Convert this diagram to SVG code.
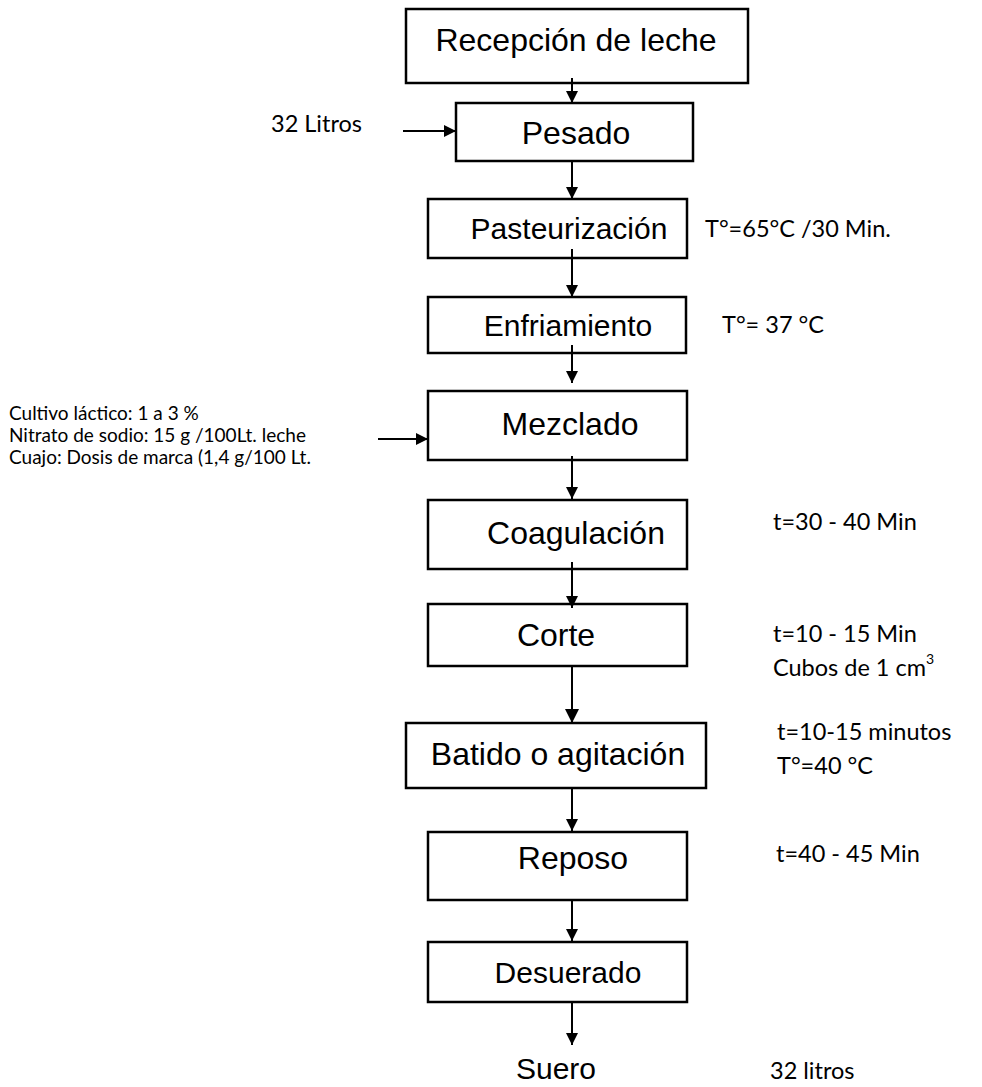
<svg xmlns="http://www.w3.org/2000/svg" width="982" height="1087" viewBox="0 0 982 1087">
  <defs>
    <style>
      .box { fill: #fff; stroke: #000; stroke-width: 2.5; }
      .lbl { font-family: "Liberation Sans", Arial, sans-serif; font-size: 32px; fill: #000; text-anchor: middle; }
      .lbl-s { font-size: 30px; }
      .note { font-family: Lato, "Open Sans", sans-serif; font-size: 23.5px; fill: #000; }
      .small { font-family: Lato, "Open Sans", sans-serif; font-size: 19px; fill: #000; }
      .flow { stroke: #000; stroke-width: 2; fill: none; marker-end: url(#head); }
      .flow-big { stroke: #000; stroke-width: 2; fill: none; marker-end: url(#headBig); }
    </style>
    <marker id="head" markerUnits="userSpaceOnUse" markerWidth="14" markerHeight="14" viewBox="0 0 14 14" refX="13" refY="7" orient="auto">
      <path d="M1,1 L13,7 L1,13 Z" fill="#000"/>
    </marker>
    <marker id="headBig" markerUnits="userSpaceOnUse" markerWidth="16" markerHeight="16" viewBox="0 0 16 16" refX="15" refY="8" orient="auto">
      <path d="M1,1 L15,8 L1,15 Z" fill="#000"/>
    </marker>
  </defs>

  <rect width="982" height="1087" fill="#fff"/>

  <!-- process steps -->
  <g id="recepcion">
    <rect class="box" x="406" y="9" width="342" height="74"/>
    <text class="lbl" x="576" y="51">Recepción de leche</text>
  </g>
  <g id="pesado">
    <rect class="box" x="456" y="103" width="237" height="58"/>
    <text class="lbl" x="576" y="144">Pesado</text>
  </g>
  <g id="pasteurizacion">
    <rect class="box" x="428" y="199" width="259" height="59"/>
    <text class="lbl lbl-s" x="569" y="239">Pasteurización</text>
  </g>
  <g id="enfriamiento">
    <rect class="box" x="428" y="297" width="258" height="56"/>
    <text class="lbl lbl-s" x="568" y="336">Enfriamiento</text>
  </g>
  <g id="mezclado">
    <rect class="box" x="428" y="391" width="259" height="69"/>
    <text class="lbl" x="570" y="435">Mezclado</text>
  </g>
  <g id="coagulacion">
    <rect class="box" x="428" y="500" width="259" height="69"/>
    <text class="lbl" x="576" y="544">Coagulación</text>
  </g>
  <g id="corte">
    <rect class="box" x="428" y="604" width="259" height="62"/>
    <text class="lbl" x="556" y="646">Corte</text>
  </g>
  <g id="batido">
    <rect class="box" x="406" y="723" width="300" height="65"/>
    <text class="lbl" x="558" y="765">Batido o agitación</text>
  </g>
  <g id="reposo">
    <rect class="box" x="428" y="832" width="259" height="68"/>
    <text class="lbl" x="573" y="869">Reposo</text>
  </g>
  <g id="desuerado">
    <rect class="box" x="428" y="942" width="259" height="60"/>
    <text class="lbl lbl-s" x="568" y="983">Desuerado</text>
  </g>
  <g id="suero">
    <text class="lbl lbl-s" x="556" y="1079">Suero</text>
  </g>

  <!-- inputs and process conditions -->
  <g id="entrada-leche">
    <text class="note" x="271" y="132">32 Litros</text>
  </g>
  <g id="insumos">
    <text class="small" x="9" y="420">Cultivo láctico: 1 a 3 %</text>
    <text class="small" x="9" y="442">Nitrato de sodio: 15 g /100Lt. leche</text>
    <text class="small" x="9" y="464">Cuajo: Dosis de marca (1,4 g/100 Lt.</text>
  </g>
  <g id="cond-pasteurizacion">
    <text class="note" x="705" y="237">T°=65°C /30 Min.</text>
  </g>
  <g id="cond-enfriamiento">
    <text class="note" x="722" y="333">T°= 37 °C</text>
  </g>
  <g id="cond-coagulacion">
    <text class="note" x="773" y="530">t=30 - 40 Min</text>
  </g>
  <g id="cond-corte">
    <text class="note" x="773" y="642">t=10 - 15 Min</text>
    <text class="note" x="773" y="676">Cubos de 1 cm<tspan font-size="14" dy="-12">3</tspan></text>
  </g>
  <g id="cond-batido">
    <text class="note" x="777" y="740">t=10-15 minutos</text>
    <text class="note" x="777" y="774">T°=40 °C</text>
  </g>
  <g id="cond-reposo">
    <text class="note" x="776" y="862">t=40 - 45 Min</text>
  </g>
  <g id="salida-suero">
    <text class="note" x="770" y="1079">32 litros</text>
  </g>

  <!-- connectors -->
  <g id="connectors">
    <line class="flow" x1="572" y1="78" x2="572" y2="103"/>
    <line class="flow" x1="572" y1="161" x2="572" y2="199"/>
    <line class="flow" x1="572" y1="249" x2="572" y2="297"/>
    <line class="flow" x1="572" y1="345" x2="572" y2="383"/>
    <line class="flow" x1="572" y1="456" x2="572" y2="499"/>
    <line class="flow" x1="572" y1="562" x2="572" y2="608"/>
    <line class="flow-big" x1="572" y1="666" x2="572" y2="723"/>
    <line class="flow" x1="572" y1="788" x2="572" y2="831"/>
    <line class="flow" x1="572" y1="900" x2="572" y2="941"/>
    <line class="flow" x1="572" y1="1002" x2="572" y2="1045"/>
    <line class="flow" x1="403" y1="131" x2="456" y2="131"/>
    <line class="flow" x1="378" y1="439" x2="428" y2="439"/>
  </g>
</svg>
